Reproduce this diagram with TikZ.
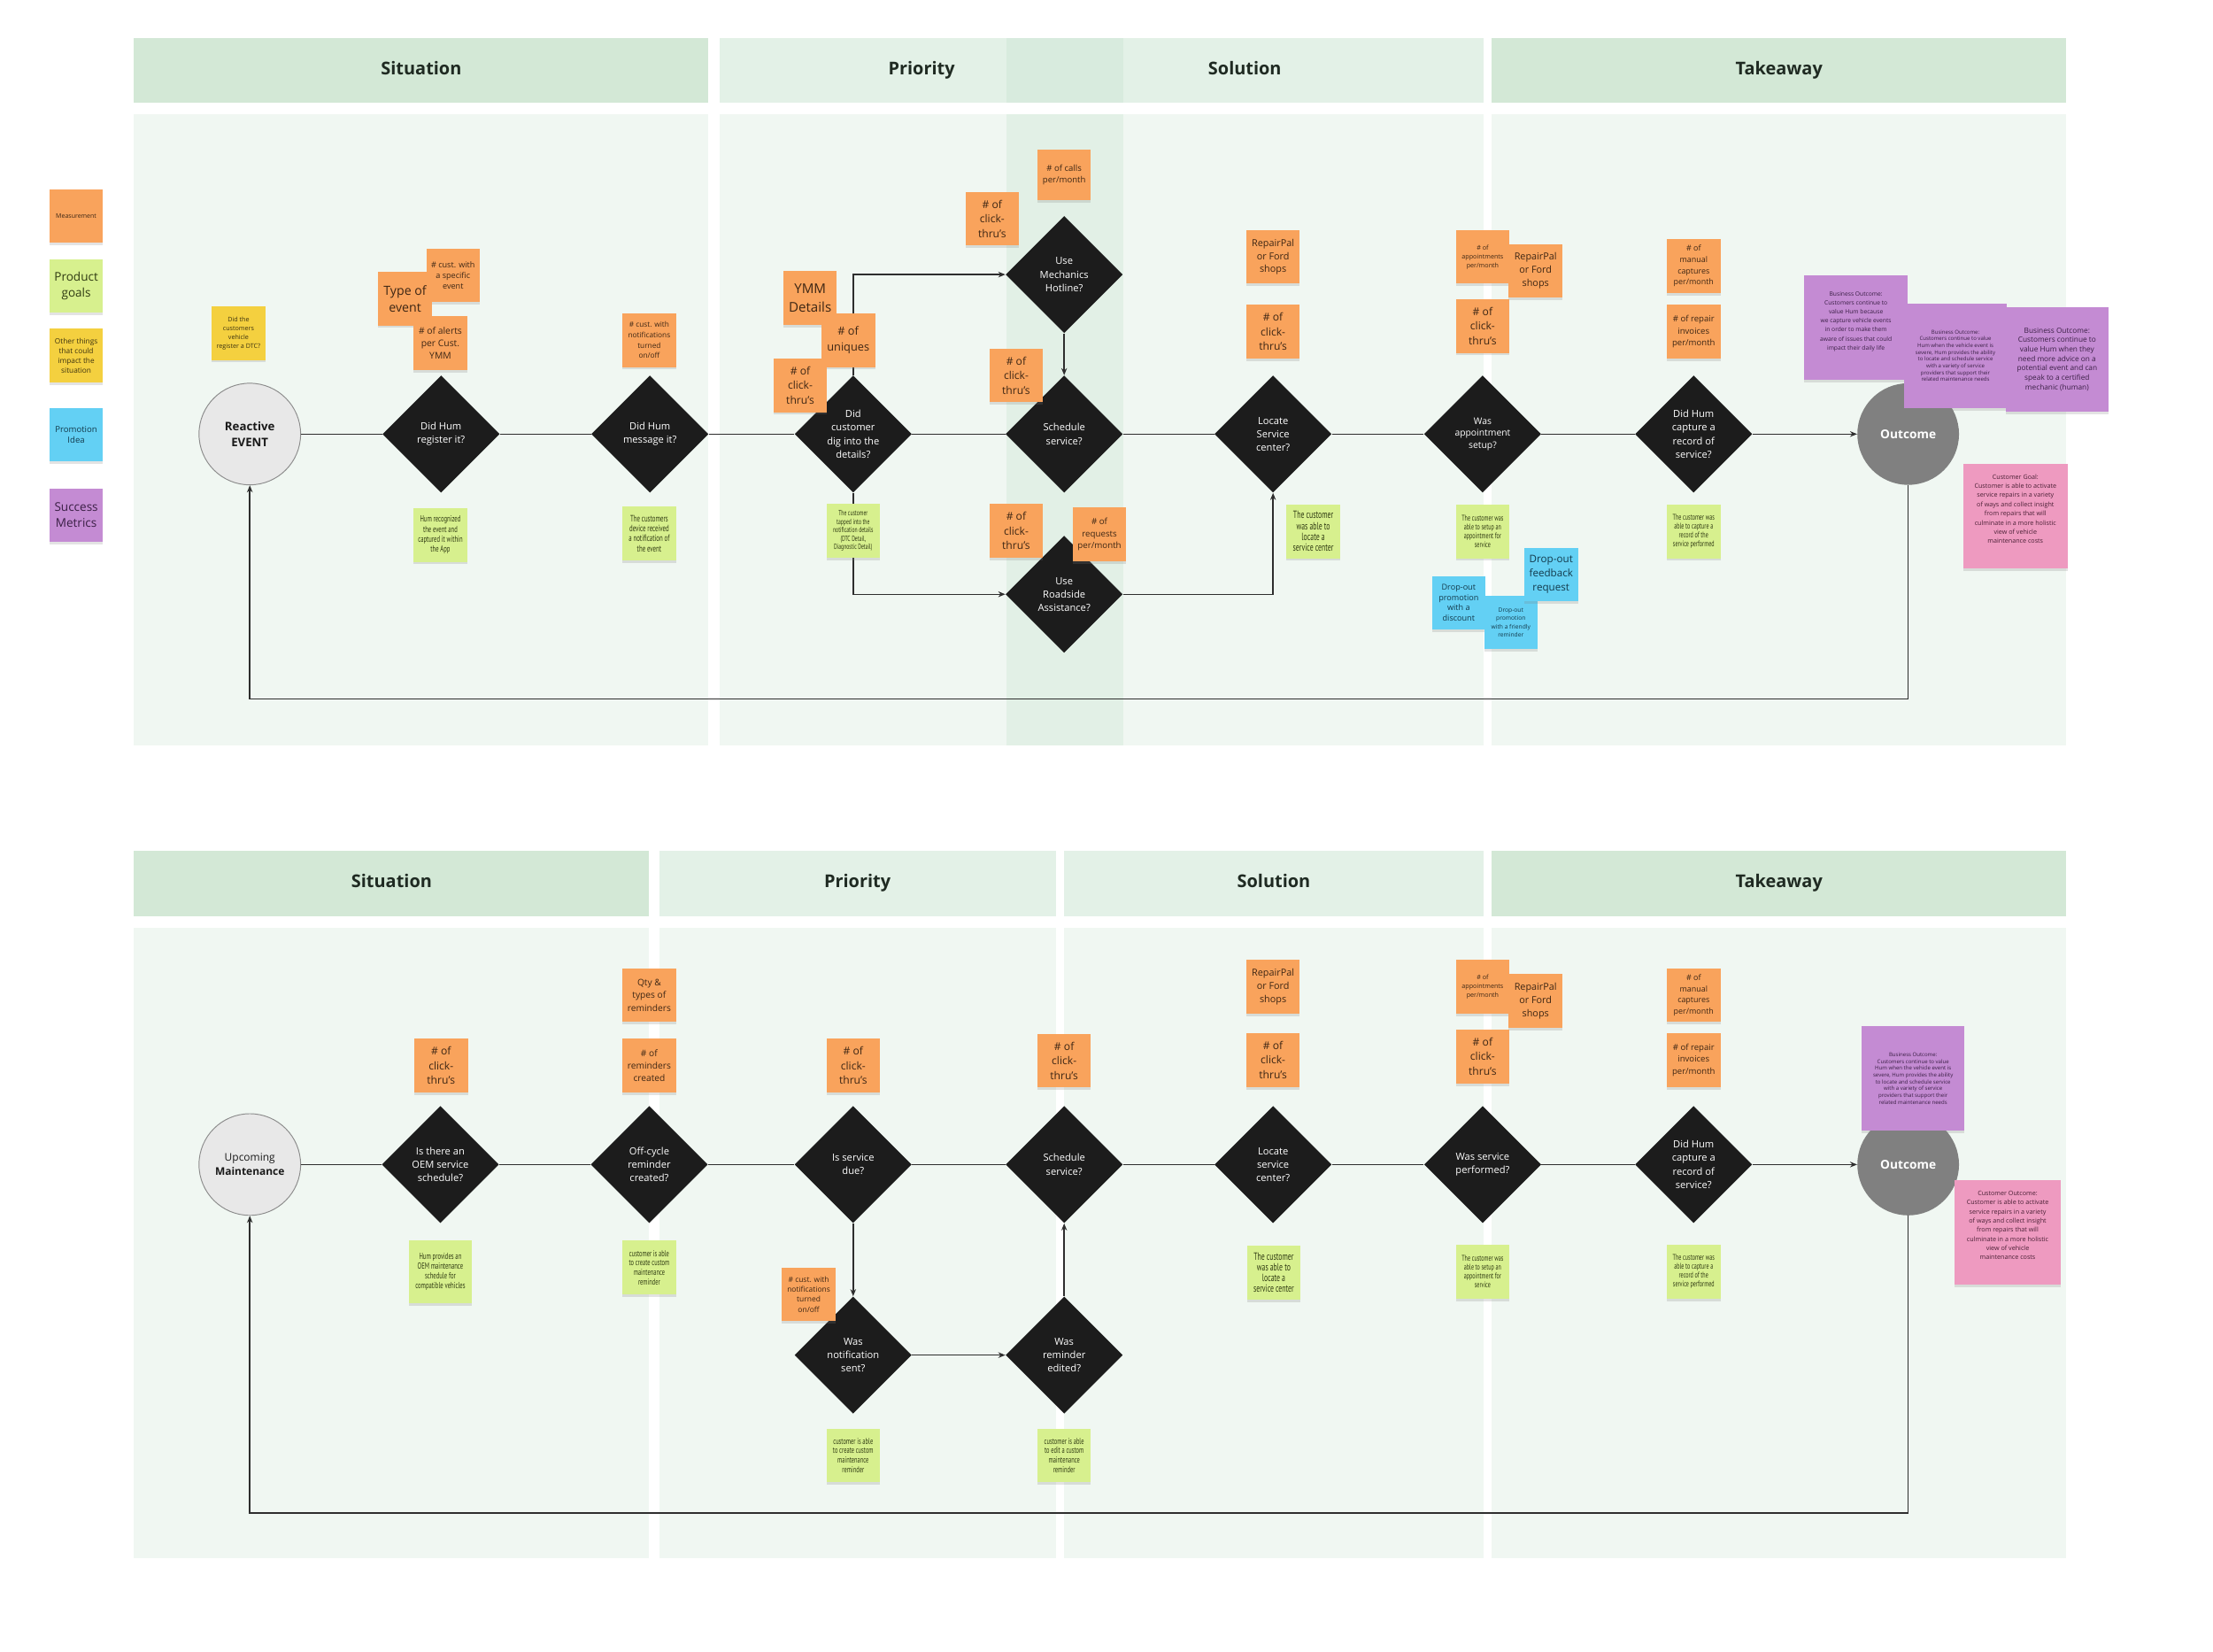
\documentclass[tikz,border=0pt]{standalone}
\usepackage{fontspec}
\setmainfont{Open Sans}
\newfontfamily\hand[FakeStretch=0.66]{PT Sans}
\usetikzlibrary{shapes.geometric,arrows.meta,shadows}
\newcommand{\fsz}[2]{\fontsize{#1}{#2}\selectfont}
\definecolor{hdDark}{HTML}{D3E8D6}
\definecolor{hdLight}{HTML}{E3F1E7}
\definecolor{hdMid}{HTML}{D8EBDE}
\definecolor{bdLight}{HTML}{F0F7F2}
\definecolor{bdMid}{HTML}{E2F0E6}
\definecolor{cOr}{HTML}{F9A35C}
\definecolor{cGn}{HTML}{D7F08E}
\definecolor{cYe}{HTML}{F4D03F}
\definecolor{cBl}{HTML}{63D0F4}
\definecolor{cPu}{HTML}{C48BD3}
\definecolor{cPk}{HTML}{EE9AC0}
\definecolor{cOut}{HTML}{808080}
\definecolor{cEv}{HTML}{E8E8E8}
\definecolor{cDia}{HTML}{1C1C1C}
\definecolor{cLine}{HTML}{2E2E2E}
\definecolor{tOr}{HTML}{3D2614}
\definecolor{tGn}{HTML}{2F3A12}
\definecolor{tYe}{HTML}{3C3210}
\definecolor{tBl}{HTML}{133A4C}
\definecolor{tPu}{HTML}{3A1F45}
\definecolor{tPk}{HTML}{4A2035}
\definecolor{tHd}{HTML}{1F2A22}
\tikzset{
  note/.style={rectangle, minimum width=38pt, minimum height=38pt, inner sep=0.5pt, align=center,
    drop shadow={opacity=0.22, shadow xshift=0pt, shadow yshift=-1.8pt}},
  onote/.style={note, fill=cOr, text=tOr},
  gnote/.style={note, fill=cGn, text=tGn},
  ynote/.style={note, fill=cYe, text=tYe},
  bnote/.style={note, fill=cBl, text=tBl},
  pnote/.style={note, fill=cPu, text=tPu, minimum width=73pt, minimum height=74pt},
  knote/.style={note, fill=cPk, text=tPk, minimum width=74pt, minimum height=74pt},
  clk/.style={onote, font=\fsz{7.6}{10.4}},
  rpal/.style={onote, font=\fsz{6.8}{9.4}},
  dia/.style={diamond, aspect=1, fill=cDia, text=white, minimum width=83pt, minimum height=83pt,
    inner sep=0pt, align=center, font=\fsz{7}{9.5}},
  evc/.style={circle, minimum size=72pt, inner sep=0pt, fill=cEv, draw=black!45, line width=0.6pt,
    align=center, text=black!90, font=\bfseries\fsz{8.3}{11}},
  outc/.style={circle, minimum size=72pt, inner sep=0pt, fill=cOut, text=white, font=\bfseries\fsz{8.6}{10}},
  hdr/.style={text=tHd, font=\bfseries\fsz{12.5}{15}, text height=9pt, text depth=2.5pt},
  cline/.style={draw=cLine, line width=0.9pt},
  arr/.style={cline, -{Stealth[length=5pt,width=4pt]}}
}
\begin{document}
\begin{tikzpicture}[x=1pt,y=-1pt]
\useasboundingbox[fill=white] (0,0) rectangle (1568,1170);
% ---------- top section backgrounds
\fill[hdDark] (95,27) rectangle (502,73);
\fill[hdLight] (510,27) rectangle (1051,73);
\fill[hdMid] (713,27) rectangle (796,73);
\fill[hdDark] (1057,27) rectangle (1464,73);
\fill[bdLight] (95,81) rectangle (502,528);
\fill[bdLight] (510,81) rectangle (1051,528);
\fill[bdMid] (713,81) rectangle (796,528);
\fill[bdLight] (1057,81) rectangle (1464,528);
\node[hdr] (tS) at (298.5,49.5) {Situation};
\node[hdr] (tP) at (653,49.5) {Priority};
\node[hdr] (tO) at (882,49.5) {Solution};
\node[hdr] (tT) at (1260.5,49.5) {Takeaway};
% ---------- bottom section backgrounds
\fill[hdDark] (95,603) rectangle (460,649);
\fill[hdLight] (467,603) rectangle (748,649);
\fill[hdLight] (754,603) rectangle (1051,649);
\fill[hdDark] (1057,603) rectangle (1464,649);
\fill[bdLight] (95,657) rectangle (460,1104);
\fill[bdLight] (467,657) rectangle (748,1104);
\fill[bdLight] (754,657) rectangle (1051,1104);
\fill[bdLight] (1057,657) rectangle (1464,1104);
\node[hdr] (bS) at (277.5,625.5) {Situation};
\node[hdr] (bP) at (607.5,625.5) {Priority};
\node[hdr] (bO) at (902.5,625.5) {Solution};
\node[hdr] (bT) at (1260.5,625.5) {Takeaway};
% ---------- legend
\node[onote, font=\fsz{4.4}{5.5}] (lgM) at (54,153) {Measurement};
\node[gnote, font=\fsz{8.5}{11.5}] (lgP) at (54,202.5) {Product\\goals};
\node[ynote, font=\fsz{5.2}{7}] (lgO) at (54,252) {Other things\\that could\\impact the\\situation};
\node[bnote, font=\fsz{6}{7.8}] (lgI) at (54,308) {Promotion\\Idea};
\node[pnote, minimum width=38pt, minimum height=38pt, font=\fsz{8.5}{11.5}] (lgS) at (54,365) {Success\\Metrics};
% ---------- top flow nodes
\node[evc] (ev) at (177,307.5) {Reactive\\EVENT};
\node[dia] (d1) at (312.5,307.5) {Did Hum\\register it?};
\node[dia] (d2) at (460.5,307.5) {Did Hum\\message it?};
\node[dia] (d3) at (604.5,307.5) {Did\\customer\\dig into the\\details?};
\node[dia] (mech) at (754,194.5) {Use\\Mechanics\\Hotline?};
\node[dia] (sched) at (754,307.5) {Schedule\\service?};
\node[dia] (road) at (754,421) {Use\\Roadside\\Assistance?};
\node[dia] (loc) at (902,307.5) {Locate\\Service\\center?};
\node[dia, font=\fsz{6.5}{8.6}] (appt) at (1050.5,307.5) {Was\\appointment\\setup?};
\node[dia] (cap) at (1200,307.5) {Did Hum\\capture a\\record of\\service?};
\node[outc] (out) at (1352,307.5) {Outcome};
% ---------- top connectors
\coordinate (loopA) at (0,495);
\draw[cline] (ev) -- (d1) (d1) -- (d2) (d2) -- (d3) (d3) -- (sched) (sched) -- (loc) (loc) -- (appt) (appt) -- (cap);
\draw[arr] (cap) -- (out);
\draw[arr] (d3.north) |- (mech.west);
\draw[arr] (mech.south) -- (sched.north);
\draw[arr] (d3.south) |- (road.west);
\draw[arr] (road.east) -| (loc.south);
\draw[arr] (out.south) -- (out.south |- loopA) -- (ev.south |- loopA) -- (ev.south);
% ---------- top notes
\node[ynote, font=\fsz{4.5}{6.3}] (ydtc) at (169,236) {Did the\\customers\\vehicle\\register a DTC?};
\node[onote, font=\fsz{5.7}{7.7}] (o1) at (321,195) {\# cust. with\\a specific\\event};
\node[onote, font=\fsz{8.9}{11.9}] (o2) at (287,211.5) {Type of\\event};
\node[onote, font=\fsz{6.5}{9}] (o3) at (312,243) {\# of alerts\\per Cust.\\YMM};
\node[onote, font=\fsz{5.2}{7.3}] (o4) at (460,241) {\# cust. with\\notifications\\turned\\on/off};
\node[onote, font=\fsz{9.5}{13.3}] (o5) at (574,211) {YMM\\Details};
\node[onote, font=\fsz{8}{11.1}] (o6) at (601,241) {\# of\\uniques};
\node[clk] (o7) at (567,273) {\# of\\click-\\thru's};
\node[clk] (o8) at (703,155) {\# of\\click-\\thru's};
\node[onote, font=\fsz{6}{8.2}, minimum height=36pt] (o9) at (754,124) {\# of calls\\per/month};
\node[clk] (o10) at (720,266) {\# of\\click-\\thru's};
\node[clk] (o11) at (720,376) {\# of\\click-\\thru's};
\node[onote, font=\fsz{6.1}{8.5}] (o12) at (779,378.5) {\# of\\requests\\per/month};
\node[rpal] (o13) at (902,182) {RepairPal\\or Ford\\shops};
\node[clk] (o14) at (902,235) {\# of\\click-\\thru's};
\node[onote, font=\fsz{4.5}{6.3}] (o15) at (1050.5,182) {\# of\\appointments\\per/month};
\node[rpal] (o16) at (1088,192) {RepairPal\\or Ford\\shops};
\node[clk] (o17) at (1050.5,231) {\# of\\click-\\thru's};
\node[onote, font=\fsz{5.6}{7.9}] (o18) at (1200,188.5) {\# of\\manual\\captures\\per/month};
\node[onote, font=\fsz{6}{8.4}] (o19) at (1200,235) {\# of repair\\invoices\\per/month};
\node[gnote, font=\hand\fsz{6.3}{7.1}] (g1) at (312,379) {Hum recognized\\the event and\\captured it within\\the App};
\node[gnote, font=\hand\fsz{6.5}{7.2}] (g2) at (460,378) {The customers\\device received\\a notification of\\the event};
\node[gnote, font=\hand\fsz{5.4}{6}] (g3) at (604.5,376) {The customer\\tapped into the\\notification details\\(DTC Detail,\\Diagnostic Detail)};
\node[gnote, font=\hand\fsz{7.4}{7.7}] (g4) at (930.5,376.5) {The customer\\was able to\\locate a\\service center};
\node[gnote, font=\hand\fsz{5.8}{6.3}] (g5) at (1050.5,376.5) {The customer was\\able to setup an\\appointment for\\service};
\node[gnote, font=\hand\fsz{5.8}{6.3}] (g6) at (1200,376.5) {The customer was\\able to capture a\\record of the\\service performed};
\node[bnote, font=\fsz{5.7}{7.5}] (bl1) at (1033.5,427) {Drop-out\\promotion\\with a\\discount};
\node[bnote, font=\fsz{4.2}{5.9}] (bl2) at (1070.5,441) {Drop-out\\promotion\\with a friendly\\reminder};
\node[bnote, font=\fsz{7.3}{10}] (bl3) at (1099,407) {Drop-out\\feedback\\request};
\node[pnote, font=\fsz{4.2}{6.3}] (bo1) at (1315,232) {Business Outcome:\\Customers continue to\\value Hum because\\we capture vehicle events\\in order to make them\\aware of issues that could\\impact their daily life\\[3pt]\mbox{}};
\node[pnote, font=\fsz{3.8}{4.8}] (bo2) at (1385.5,252) {Business Outcome:\\Customers continue to value\\Hum when the vehicle event is\\severe, Hum provides the ability\\to locate and schedule service\\with a variety of service\\providers that support their\\related maintenance needs};
\node[pnote, font=\fsz{5.2}{6.7}] (bo3) at (1457.5,254.5) {Business Outcome:\\Customers continue to\\value Hum when they\\need more advice on a\\potential event and can\\speak to a certified\\mechanic (human)};
\node[knote, font=\fsz{4.5}{6.5}] (cg) at (1428,365.5) {Customer Goal:\\Customer is able to activate\\service repairs in a variety\\of ways and collect insight\\from repairs that will\\culminate in a more holistic\\view of vehicle\\maintenance costs\\[3.5pt]\mbox{}};
% ---------- bottom flow nodes
\node[evc, font=\fsz{7.5}{10}] (ev2) at (177,825) {Upcoming\\\textbf{Maintenance}};
\node[dia] (b1) at (312,825) {Is there an\\OEM service\\schedule?};
\node[dia] (b2) at (460,825) {Off-cycle\\reminder\\created?};
\node[dia] (b3) at (604.5,825) {Is service\\due?};
\node[dia] (b4) at (754,825) {Schedule\\service?};
\node[dia] (b5) at (902,825) {Locate\\service\\center?};
\node[dia] (b6) at (1050.5,825) {Was service\\performed?};
\node[dia] (b7) at (1200,825) {Did Hum\\capture a\\record of\\service?};
\node[outc] (out2) at (1352,825) {Outcome};
\node[dia] (wn) at (604.5,960) {Was\\notification\\sent?};
\node[dia] (wr) at (754,960) {Was\\reminder\\edited?};
% ---------- bottom connectors
\coordinate (loopB) at (0,1072);
\draw[cline] (ev2) -- (b1) (b1) -- (b2) (b2) -- (b3) (b3) -- (b4) (b4) -- (b5) (b5) -- (b6) (b6) -- (b7);
\draw[arr] (b7) -- (out2);
\draw[arr] (b3.south) -- (wn.north);
\draw[arr] (wn.east) -- (wr.west);
\draw[arr] (wr.north) -- (b4.south);
\draw[arr] (out2.south) -- (out2.south |- loopB) -- (ev2.south |- loopB) -- (ev2.south);
% ---------- bottom notes
\node[clk] (p1) at (312.5,755) {\# of\\click-\\thru's};
\node[onote, font=\fsz{6.4}{9}] (p2) at (460,705) {Qty \&\\types of\\reminders};
\node[onote, font=\fsz{6.4}{8.8}] (p3) at (460,755) {\# of\\reminders\\created};
\node[clk] (p4) at (604.5,755) {\# of\\click-\\thru's};
\node[clk] (p5) at (754,751.5) {\# of\\click-\\thru's};
\node[onote, font=\fsz{5.3}{7.1}] (p6) at (573,917) {\# cust. with\\notifications\\turned\\on/off};
\node[rpal] (p7) at (902,699) {RepairPal\\or Ford\\shops};
\node[clk] (p8) at (902,751) {\# of\\click-\\thru's};
\node[onote, font=\fsz{4.5}{6.3}] (p9) at (1050.5,699) {\# of\\appointments\\per/month};
\node[rpal] (p10) at (1088,709) {RepairPal\\or Ford\\shops};
\node[clk] (p11) at (1050.5,748.5) {\# of\\click-\\thru's};
\node[onote, font=\fsz{5.6}{7.9}] (p12) at (1200,705) {\# of\\manual\\captures\\per/month};
\node[onote, font=\fsz{6}{8.4}] (p13) at (1200,751) {\# of repair\\invoices\\per/month};
\node[gnote, minimum width=44.5pt, minimum height=44.5pt, font=\hand\fsz{6.3}{6.9}] (h1) at (312,901) {Hum provides an\\OEM maintenance\\schedule for\\compatible vehicles};
\node[gnote, font=\hand\fsz{6.1}{6.7}] (h2) at (460,898) {customer is able\\to create custom\\maintenance\\reminder};
\node[gnote, font=\hand\fsz{6.1}{6.7}] (h3) at (604.5,1031) {customer is able\\to create custom\\maintenance\\reminder};
\node[gnote, font=\hand\fsz{6.1}{6.7}] (h4) at (754,1031) {customer is able\\to edit a custom\\maintenance\\reminder};
\node[gnote, font=\hand\fsz{7.4}{7.7}] (h5) at (902.5,901.5) {The customer\\was able to\\locate a\\service center};
\node[gnote, font=\hand\fsz{5.8}{6.3}] (h6) at (1050.5,901) {The customer was\\able to setup an\\appointment for\\service};
\node[gnote, font=\hand\fsz{5.8}{6.3}] (h7) at (1200,901) {The customer was\\able to capture a\\record of the\\service performed};
\node[pnote, font=\fsz{3.8}{4.8}] (bo4) at (1355.5,764) {Business Outcome:\\Customers continue to value\\Hum when the vehicle event is\\severe, Hum provides the ability\\to locate and schedule service\\with a variety of service\\providers that support their\\related maintenance needs};
\node[knote, minimum width=75pt, font=\fsz{4.5}{6.5}] (co) at (1422.5,873) {Customer Outcome:\\Customer is able to activate\\service repairs in a variety\\of ways and collect insight\\from repairs that will\\culminate in a more holistic\\view of vehicle\\maintenance costs\\[3.5pt]\mbox{}};
\end{tikzpicture}
\end{document}
